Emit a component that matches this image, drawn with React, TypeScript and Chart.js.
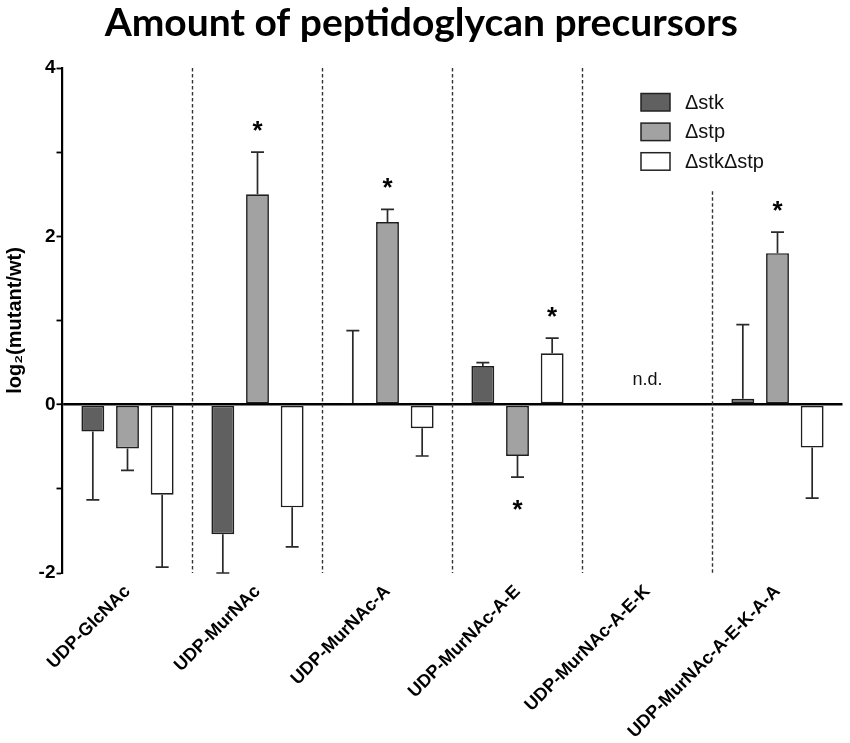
import React, { useEffect, useRef } from "react";
import { Chart, registerables } from "chart.js";

Chart.register(...registerables);

const categories = [
  "UDP-GlcNAc",
  "UDP-MurNAc",
  "UDP-MurNAc-A",
  "UDP-MurNAc-A-E",
  "UDP-MurNAc-A-E-K",
  "UDP-MurNAc-A-E-K-A-A",
];

const seriesLabels = ["\u0394stk", "\u0394stp", "\u0394stk\u0394stp"];

const stkValues = [-0.32, -1.54, 0.02, 0.46, null, 0.07];
const stpValues = [-0.52, 2.5, 2.17, -0.61, null, 1.8];
const stkStpValues = [-1.07, -1.22, -0.28, 0.61, null, -0.51];

const stkErrors = [0.81, 0.46, 0.86, 0.04, null, 0.88];
const stpErrors = [0.26, 0.5, 0.15, 0.25, null, 0.25];
const stkStpErrors = [0.86, 0.47, 0.33, 0.18, null, 0.6];

const stkSignificant = [false, false, false, false, false, false];
const stpSignificant = [false, true, true, true, false, true];
const stkStpSignificant = [false, false, false, true, false, false];

const yTicks = [-2, 0, 2, 4];

const notDetectedText = "n.d.";
const titleText = "Amount of peptidoglycan precursors";
const yTitleText = "log\u2082(mutant/wt)";

const colors = ["#606060", "#a2a2a2", "#ffffff"];
const errorsAll = [stkErrors, stpErrors, stkStpErrors];
const sigAll = [stkSignificant, stpSignificant, stkStpSignificant];

const SANS = "'Liberation Sans', Arial, sans-serif";

const LEGEND = { x: 641, y: 93.5, box: 29, boxH: 17.5, gap: 29.6, textX: 685 };

const overlayPlugin = {
  id: "overlay",
  beforeDatasetsDraw(chart: any) {
    const { ctx, chartArea } = chart;
    const xs = chart.scales.x;
    const n = categories.length;
    const legendBottom = LEGEND.y + LEGEND.gap * 2 + LEGEND.boxH;
    ctx.save();
    ctx.strokeStyle = "#333";
    ctx.lineWidth = 1.4;
    ctx.setLineDash([3.5, 2.5]);
    for (let i = 1; i < n; i++) {
      const x = (xs.getPixelForValue(i - 1) + xs.getPixelForValue(i)) / 2;
      let top = chartArea.top;
      if (x > LEGEND.x - 10 && x < LEGEND.textX + 110) top = legendBottom + 21;
      ctx.beginPath();
      ctx.moveTo(x, top);
      ctx.lineTo(x, chartArea.bottom);
      ctx.stroke();
    }
    ctx.restore();
  },
  afterDatasetsDraw(chart: any) {
    const { ctx } = chart;
    const ys = chart.scales.y;
    const xs = chart.scales.x;
    ctx.save();
    chart.data.datasets.forEach((ds: any, d: number) => {
      const meta = chart.getDatasetMeta(d);
      meta.data.forEach((el: any, i: number) => {
        const v = ds.data[i];
        const e = errorsAll[d][i];
        if (v === null || v === undefined || e === null) return;
        const end = v >= 0 ? v + e : v - e;
        const yEnd = ys.getPixelForValue(end);
        const yStart = ys.getPixelForValue(v);
        ctx.strokeStyle = "#2a2a2a";
        ctx.lineWidth = 1.7;
        ctx.setLineDash([]);
        ctx.beginPath();
        ctx.moveTo(el.x, yStart);
        ctx.lineTo(el.x, yEnd);
        ctx.moveTo(el.x - 6.5, yEnd);
        ctx.lineTo(el.x + 6.5, yEnd);
        ctx.stroke();
        if (sigAll[d][i]) {
          ctx.fillStyle = "#000";
          ctx.font = "bold 26px " + SANS;
          ctx.textAlign = "center";
          ctx.textBaseline = "alphabetic";
          const cy = v >= 0 ? yEnd - 28 : yEnd + 26;
          ctx.fillText("*", el.x, cy + 15);
        }
      });
    });
    // n.d. labels for categories with no data
    categories.forEach((_, i) => {
      const all = [stkValues[i], stpValues[i], stkStpValues[i]];
      if (all.every((v) => v === null)) {
        ctx.fillStyle = "#111";
        ctx.font = "18px " + SANS;
        ctx.textAlign = "center";
        ctx.textBaseline = "alphabetic";
        ctx.fillText(notDetectedText, xs.getPixelForValue(i), ys.getPixelForValue(0) - 20);
      }
    });
    // legend
    seriesLabels.forEach((lab, k) => {
      const y = LEGEND.y + LEGEND.gap * k;
      ctx.fillStyle = colors[k];
      ctx.fillRect(LEGEND.x, y, LEGEND.box, LEGEND.boxH);
      ctx.strokeStyle = "#222";
      ctx.lineWidth = 1.5;
      ctx.strokeRect(LEGEND.x, y, LEGEND.box, LEGEND.boxH);
      ctx.fillStyle = "#111";
      ctx.font = "20px " + SANS;
      ctx.textAlign = "left";
      ctx.textBaseline = "middle";
      ctx.fillText(lab, LEGEND.textX, y + LEGEND.boxH / 2 + 1);
    });
    ctx.restore();
  },
};

export default function App() {
  const ref = useRef<HTMLCanvasElement | null>(null);
  useEffect(() => {
    document.body.style.margin = "0";
    if (!ref.current) return;
    const chart = new Chart(ref.current, {
      type: "bar",
      data: {
        labels: categories,
        datasets: [stkValues, stpValues, stkStpValues].map((data, k) => ({
          label: seriesLabels[k],
          data,
          backgroundColor: colors[k],
          borderColor: "#1e1e1e",
          borderWidth: 1.7,
          borderSkipped: false,
          categoryPercentage: 0.8,
          barPercentage: 0.66,
        })),
      },
      options: {
        responsive: false,
        animation: false,
        devicePixelRatio: 1,
        layout: { padding: { left: 0, right: 7.5, top: 0, bottom: 0 } },
        plugins: {
          legend: { display: false },
          tooltip: { enabled: false },
          title: {
            display: true,
            text: titleText,
            color: "#000",
            font: { family: "Lato, 'Open Sans', sans-serif", size: 39, weight: "bold", lineHeight: 1.2 },
            padding: { top: 0, bottom: 21.2 },
          },
        },
        scales: {
          x: {
            grid: { display: false, drawTicks: false },
            border: { display: false },
            ticks: {
              color: "#000",
              font: { family: SANS, size: 18, weight: "bold" },
              maxRotation: 45,
              minRotation: 45,
              autoSkip: false,
              padding: 8,
            },
            afterFit(scale: any) {
              scale.height = 170;
            },
          },
          y: {
            min: -2,
            max: 4,
            border: { display: true, color: "#000", width: 2.2 },
            grid: {
              drawOnChartArea: true,
              color: (c: any) => (c.tick && c.tick.value === 0 ? "#000" : "rgba(0,0,0,0)"),
              lineWidth: (c: any) => (c.tick && c.tick.value === 0 ? 2.5 : 1),
              tickColor: "#000",
              tickLength: 6,
              tickWidth: 1.8,
            },
            ticks: {
              stepSize: 1,
              color: "#000",
              padding: 1,
              font: { family: SANS, size: 19, weight: "bold" },
              callback: (v: any) => (yTicks.includes(Number(v)) ? String(v) : ""),
            },
            title: {
              display: true,
              text: yTitleText,
              color: "#000",
              font: { family: SANS, size: 20, weight: "bold" },
              padding: { top: 3, bottom: 0 },
            },
            afterFit(scale: any) {
              scale.width = 62.5;
            },
          },
        },
      },
      plugins: [overlayPlugin],
    });
    return () => chart.destroy();
  }, []);
  return (
    <div style={{ width: 850, height: 743 }}>
      <canvas ref={ref} width={850} height={743} style={{ width: 850, height: 743, display: "block" }} />
    </div>
  );
}
